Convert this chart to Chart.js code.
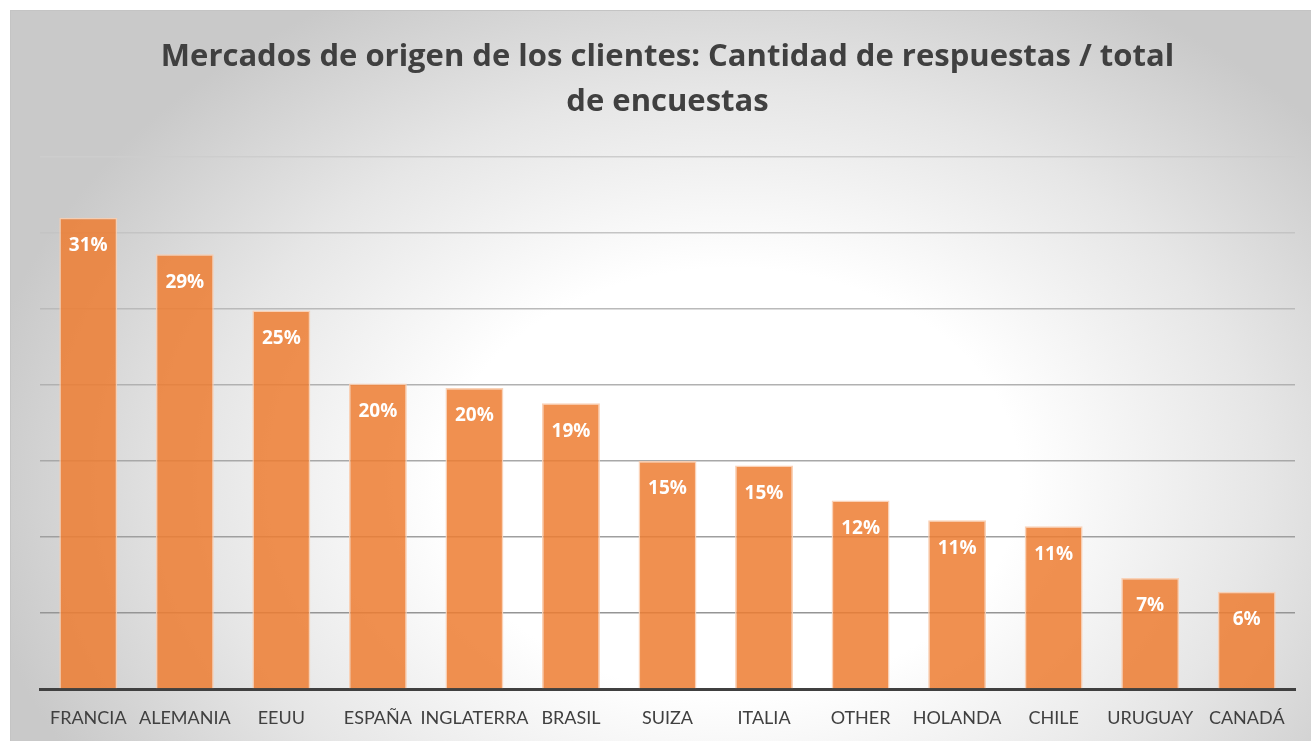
<!DOCTYPE html>
<html lang="es">
<head>
    <meta charset="UTF-8">
    <title>Mercados de origen de los clientes</title>
    <script src="https://cdn.jsdelivr.net/npm/chart.js"></script>
    <style>
        body {
            margin: 0;
            background: #ffffff;
        }
        .chart-box {
            position: absolute;
            left: 10px;
            top: 10px;
            width: 1301px;
            height: 731px;
            border-top: 1px solid #c4c4c4;
            border-left: 1px solid #c4c4c4;
            box-sizing: border-box;
            background: radial-gradient(ellipse 760px 560px at 720px 470px,
                #ffffff 0%, #ffffff 38%, #e6e6e6 70%, #c9c9c9 100%);
        }
    </style>
</head>
<body>
    <div class="chart-box">
        <canvas id="marketsChart" width="1300" height="730"></canvas>
    </div>

    <script>
        // Data (percent of surveys)
        const countries = ['FRANCIA', 'ALEMANIA', 'EEUU', 'ESPAÑA', 'INGLATERRA', 'BRASIL',
            'SUIZA', 'ITALIA', 'OTHER', 'HOLANDA', 'CHILE', 'URUGUAY', 'CANADÁ'];
        const shares = [31.0, 28.6, 24.9, 20.1, 19.8, 18.8, 15.0, 14.7, 12.4, 11.1, 10.7, 7.3, 6.4];
        const titleLines = ['Mercados de origen de los clientes: Cantidad de respuestas / total',
            'de encuestas'];

        // Draws the white % labels inside the top of each bar
        const barLabels = {
            id: 'barLabels',
            afterDatasetsDraw(chart) {
                const ctx = chart.ctx;
                const meta = chart.getDatasetMeta(0);
                ctx.save();
                ctx.fillStyle = '#ffffff';
                ctx.font = 'bold 19px "Open Sans"';
                ctx.textAlign = 'center';
                ctx.textBaseline = 'middle';
                meta.data.forEach((bar, i) => {
                    ctx.fillText(Math.round(shares[i]) + '%', bar.x, bar.y + 28);
                });
                ctx.restore();
            }
        };

        // Grid lines get darker towards the baseline
        function gridColor(context) {
            const v = context.tick ? context.tick.value : 0;
            const shade = Math.round(140 + (v / 35) * 65);
            return `rgb(${shade}, ${shade}, ${shade})`;
        }

        const ctx = document.getElementById('marketsChart').getContext('2d');
        new Chart(ctx, {
            type: 'bar',
            data: {
                labels: countries,
                datasets: [{
                    data: shares,
                    backgroundColor: 'rgba(237, 125, 49, 0.85)',
                    borderColor: 'rgba(250, 205, 175, 0.9)',
                    borderWidth: 1.5,
                    barPercentage: 0.6,
                    categoryPercentage: 1.0
                }]
            },
            plugins: [barLabels],
            options: {
                responsive: false,
                animation: false,
                layout: {
                    padding: { top: 12, left: 29, right: 16, bottom: 0 }
                },
                plugins: {
                    legend: { display: false },
                    tooltip: { enabled: false },
                    title: {
                        display: true,
                        text: titleLines,
                        color: '#404040',
                        font: { family: 'Open Sans', size: 31, weight: 'bold', lineHeight: 1.45 },
                        padding: { top: 12, bottom: 32 }
                    }
                },
                scales: {
                    x: {
                        grid: { display: false, drawTicks: false },
                        border: { display: true, color: '#404040', width: 3 },
                        ticks: {
                            color: '#404040',
                            font: { family: 'Lato', size: 18 },
                            padding: 18,
                            maxRotation: 0,
                            autoSkip: false
                        },
                        afterFit(scale) { scale.height = 52; }
                    },
                    y: {
                        min: 0,
                        max: 35,
                        ticks: { display: false, stepSize: 5 },
                        grid: { color: gridColor, lineWidth: 1.5, drawTicks: false },
                        border: { display: false },
                        afterFit(scale) { scale.width = 0; }
                    }
                }
            }
        });
    </script>
</body>
</html>
